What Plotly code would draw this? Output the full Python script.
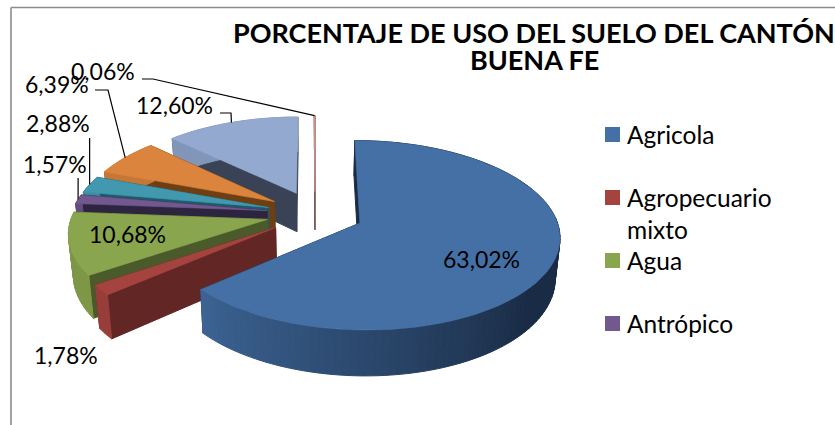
import numpy as np
import plotly.graph_objects as go

# ---- data ----
values = [63.02, 1.78, 10.68, 1.57, 2.88, 6.39, 12.60, 0.06]
value_labels = ["63,02%", "1,78%", "10,68%", "1,57%", "2,88%", "6,39%", "12,60%", "0,06%"]
legend_labels = ["Agricola", "Agropecuario<br>mixto", "Agua", "Antrópico"]
title_lines = ["PORCENTAJE DE USO DEL SUELO DEL CANTÓN", "BUENA FE"]

# ---- styles ----
top_colors = ["#4470a5", "#a5443f", "#89a54e", "#71588f", "#4198af", "#db843d", "#93a9cf", "#d19392"]
side_colors = ["#1a2c45", "#622725", "#4a5a2a", "#2d2440", "#1f5a6a", "#6e3f12", "#3a4355", "#7a5a5a"]
FONT = "Lato"
TEXT = "#000000"

# perspective "camera"
CX, CY = 315.0, 213.5
RX, RY = 195.0, 90.7
K = 0.127
EXPLODE = 0.25
DEPTH = 39.5
SHRINK = 0.98


def project(px, pv):
    w = 1 + K * pv
    return CX + RX * px / w, CY - RY * pv / w, w


def bottom(x, y, w):
    return CX + (x - CX) * SHRINK, y + DEPTH / w


def hexrgb(c):
    return np.array([int(c[i:i + 2], 16) for i in (1, 3, 5)], float)


def mix(a, b, t):
    v = hexrgb(a) * (1 - t) + hexrgb(b) * t
    return "rgb(%d,%d,%d)" % tuple(v)


def poly(fig, xs, ys, color, lw=1.0):
    fig.add_trace(go.Scatter(x=list(xs) + [xs[0]], y=list(ys) + [ys[0]], mode="lines",
                             fill="toself", fillcolor=color,
                             line=dict(color=color, width=lw),
                             hoverinfo="skip", showlegend=False))


fig = go.Figure()
fractions = np.array(values) / np.sum(values)
edges = np.concatenate([[0], np.cumsum(fractions)]) * 2 * np.pi

geom = []
for i in range(len(values)):
    t0, t1 = edges[i], edges[i + 1]
    mid = (t0 + t1) / 2
    ax, av = EXPLODE * np.sin(mid), EXPLODE * np.cos(mid)
    n = max(3, int((t1 - t0) / np.radians(2)))
    th = np.linspace(t0, t1, n)
    X, Y, W = project(ax + np.sin(th), av + np.cos(th))
    AX, AY, AW = project(ax, av)
    mx, my, _ = project(ax + np.sin(mid), av + np.cos(mid))
    geom.append(dict(th=th, X=X, Y=Y, W=W, AX=AX, AY=AY, AW=AW, mx=mx, my=my))

# paint from the back to the front: last slices are farthest, the big slice is nearest
for i in range(len(values) - 1, -1, -1):
    g = geom[i]
    X, Y, W, th = g["X"], g["Y"], g["W"], g["th"]
    bx, by = bottom(X, Y, W)
    abx, aby = bottom(g["AX"], g["AY"], g["AW"])
    # cut faces
    poly(fig, [g["AX"], X[0], bx[0], abx], [g["AY"], Y[0], by[0], aby], side_colors[i])
    poly(fig, [g["AX"], X[-1], bx[-1], abx], [g["AY"], Y[-1], by[-1], aby], side_colors[i])
    # outer wall, shaded segment by segment
    for j in range(len(th) - 1):
        tm = (th[j] + th[j + 1]) / 2
        s = np.clip((np.degrees(tm) - 130) / (229 - 130), 0, 1)
        col = mix(side_colors[i], top_colors[i], 0.82 * s)
        poly(fig, [X[j], X[j + 1], bx[j + 1], bx[j]], [Y[j], Y[j + 1], by[j + 1], by[j]], col)
    # top face
    poly(fig, [g["AX"]] + list(X), [g["AY"]] + list(Y), top_colors[i], lw=0.6)

# leader lines: from a label elbow to the middle of the slice's outer arc
leader_elbows = {
    7: [(142, 79), (153, 79)],
    5: [(95, 90), (108, 90)],
    6: [(220, 113), (231, 113)],
    4: [(geom[4]["mx"], 138)],
    3: [(geom[3]["mx"], 178)],
}
for i, pts in leader_elbows.items():
    xs = [p[0] for p in pts] + [geom[i]["mx"]]
    ys = [p[1] for p in pts] + [geom[i]["my"]]
    fig.add_trace(go.Scatter(x=xs, y=ys, mode="lines", line=dict(color="#000000", width=1.2),
                             hoverinfo="skip", showlegend=False))

# value labels
label_pos = [(481, 259), (66, 355), (127, 234), (55, 164), (58, 123), (57, 84), (174, 105), (103, 71)]
for lab, (x, y) in zip(value_labels, label_pos):
    fig.add_annotation(x=x, y=y, text=lab, showarrow=False, xanchor="center", yanchor="middle",
                       font=dict(family=FONT, size=23, color=TEXT))

# legend
leg_y = [134.5, 197.5, 260.5, 323.5]
fig.add_trace(go.Scatter(x=[612.5] * 4, y=leg_y, mode="markers",
                         marker=dict(symbol="square", size=15, color=top_colors[:4], line=dict(width=0)),
                         hoverinfo="skip", showlegend=False))
for lab, y in zip(legend_labels, leg_y):
    fig.add_annotation(x=625, y=y - 17, text=lab, showarrow=False, xanchor="left", yanchor="top", align="left",
                       font=dict(family=FONT, size=24.5, color=TEXT))

# title
for line, y in zip(title_lines, [32, 59]):
    fig.add_annotation(x=534, y=y, text="<b>" + line + "</b>", showarrow=False,
                       xanchor="center", yanchor="middle", align="center",
                       font=dict(family=FONT, size=27, color=TEXT))

# chart frame
frame = dict(type="line", line=dict(color="#8c8c8c", width=1.6), layer="above")
fig.add_shape(x0=11, x1=11, y0=7.5, y1=425, **frame)
fig.add_shape(x0=11, x1=835, y0=7.5, y1=7.5, **frame)

fig.update_layout(width=835, height=425, margin=dict(l=0, r=0, t=0, b=0),
                  paper_bgcolor="#ffffff", plot_bgcolor="#ffffff", showlegend=False,
                  xaxis=dict(range=[0, 835], visible=False, fixedrange=True),
                  yaxis=dict(range=[425, 0], visible=False, fixedrange=True))
fig.write_html("out.html", post_script="document.body.style.margin='0';document.documentElement.style.overflow='hidden';",
               config={"displayModeBar": False})
